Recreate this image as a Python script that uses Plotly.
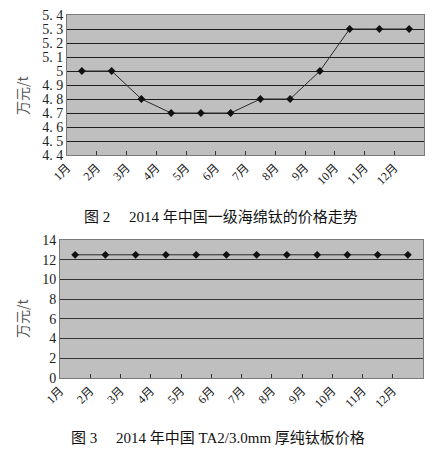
import plotly.graph_objects as go

months = ["1月", "2月", "3月", "4月", "5月", "6月", "7月", "8月", "9月", "10月", "11月", "12月"]
sponge_price = [5.0, 5.0, 4.8, 4.7, 4.7, 4.7, 4.8, 4.8, 5.0, 5.3, 5.3, 5.3]
plate_price = [12.5, 12.5, 12.5, 12.5, 12.5, 12.5, 12.5, 12.5, 12.5, 12.5, 12.5, 12.5]
y1_ticks = [4.4, 4.5, 4.6, 4.7, 4.8, 4.9, 5.0, 5.1, 5.2, 5.3, 5.4]
y1_labels = ["4. 4", "4. 5", "4. 6", "4. 7", "4. 8", "4. 9", "5", "5. 1", "5. 2", "5. 3", "5. 4"]
y2_ticks = [0, 2, 4, 6, 8, 10, 12, 14]
unit = "万元/t"
caption1 = "图 2　 2014 年中国一级海绵钛的价格走势"
caption2 = "图 3　 2014 年中国 TA2/3.0mm 厚纯钛板价格"

idx = list(range(len(months)))
xpos = [i + 0.5 for i in idx]

# page body has an 8px default margin; figure is sized/offset to compensate
OFF = 8
W, H = 436 - OFF, 454 - OFF
serif = "Liberation Serif"
cjk = "Noto Sans CJK SC"
mixed = serif + ", " + cjk

fig = go.Figure()
fig.add_trace(go.Scatter(x=xpos, y=sponge_price, mode="lines+markers", xaxis="x", yaxis="y",
                         line=dict(color="#2a2a2a", width=1),
                         marker=dict(symbol="diamond", size=6, color="#111"), showlegend=False))
fig.add_trace(go.Scatter(x=xpos, y=plate_price, mode="lines+markers", xaxis="x2", yaxis="y2",
                         line=dict(color="#2a2a2a", width=1),
                         marker=dict(symbol="diamond", size=6, color="#111"), showlegend=False))

def px_x(a, b):
    return [(a - OFF) / W, (b - OFF) / W]

def px_y(top, bottom):
    return [1 - (bottom - OFF) / H, 1 - (top - OFF) / H]

def pt(x, y):
    return dict(x=(x - OFF) / W, y=1 - (y - OFF) / H, xanchor="center", yanchor="middle")

tickfont_x = dict(family=mixed, size=12, color="#222")
tickfont_y = dict(family=serif, size=14, color="#222")

common_x = dict(range=[0, 12], tickvals=idx, ticktext=months, automargin=False,
                ticklabeloverflow="allow",
                tickangle=-45, tickfont=tickfont_x, ticks="inside", ticklen=4, tickcolor="#333",
                showgrid=False, showline=True, linecolor="#7a7a7a", mirror=True, zeroline=False)
common_y = dict(automargin=False, ticklabeloverflow="allow", tickfont=tickfont_y,
                showgrid=True, gridwidth=1,
                showline=True, linecolor="#7a7a7a", mirror=True, zeroline=False, ticks="")

fig.update_layout(
    width=W, height=H, margin=dict(l=0, r=0, t=0, b=0),
    paper_bgcolor="white", plot_bgcolor="#bfbfbf",
    xaxis=dict(domain=px_x(67, 424), anchor="y", **common_x),
    yaxis=dict(domain=px_y(15, 155), anchor="x", range=[4.4, 5.4], tickvals=y1_ticks, ticktext=y1_labels,
               gridcolor="#1e1e1e", **common_y),
    xaxis2=dict(domain=px_x(60, 423), anchor="y2", **common_x),
    yaxis2=dict(domain=px_y(240, 378), anchor="x2", range=[0, 14], tickvals=y2_ticks,
                gridcolor="#333333", **common_y),
)

fig.add_annotation(text=unit, **pt(22, 95), xref="paper", yref="paper", textangle=-90,
                   showarrow=False, font=dict(family=cjk, size=14, color="#555"))
fig.add_annotation(text=unit, **pt(22, 318), xref="paper", yref="paper", textangle=-90,
                   showarrow=False, font=dict(family=cjk, size=14, color="#555"))
fig.add_annotation(text=caption1, **pt(221, 217), xref="paper", yref="paper",
                   showarrow=False, font=dict(family=mixed, size=15, color="#111"))
fig.add_annotation(text=caption2, **pt(218, 437), xref="paper", yref="paper",
                   showarrow=False, font=dict(family=mixed, size=15, color="#111"))

fig.write_html("out.html")
